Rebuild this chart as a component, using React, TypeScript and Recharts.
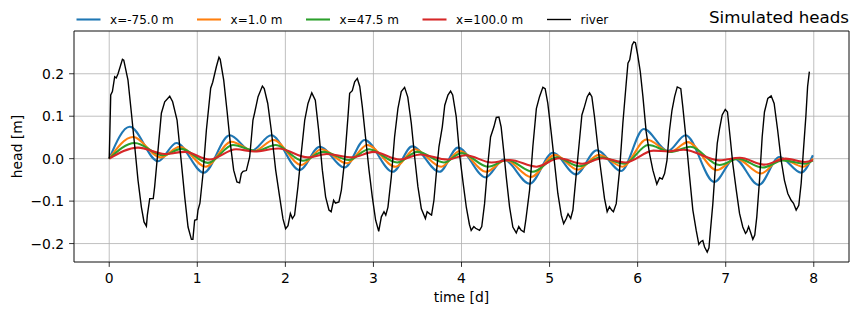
import React from "react";
import {
  CartesianGrid,
  Line,
  LineChart,
  ReferenceArea,
  XAxis,
  YAxis,
} from "recharts";

type Pt = [number, number];

// [time (d), head (m)]
const river: Pt[] = [
  [0, 0], [0.017, 0.15], [0.036, 0.158], [0.062, 0.193], [0.08, 0.19], [0.1, 0.2],
  [0.15, 0.234], [0.165, 0.232], [0.213, 0.185], [0.252, 0.107], [0.29, 0.028],
  [0.327, -0.051], [0.365, -0.114], [0.395, -0.149], [0.422, -0.159], [0.433, -0.133],
  [0.46, -0.094], [0.5, -0.094], [0.516, -0.066], [0.554, 0.02], [0.592, 0.107],
  [0.63, 0.134], [0.687, 0.147], [0.72, 0.134], [0.77, 0.091], [0.82, -0.011],
  [0.857, -0.09], [0.895, -0.161], [0.933, -0.19], [0.95, -0.19], [0.97, -0.145],
  [0.996, -0.143], [1.008, -0.121], [1.03, -0.105], [1.065, -0.035], [1.103, 0.067],
  [1.152, 0.166], [1.175, 0.18], [1.217, 0.217], [1.246, 0.239], [1.26, 0.234],
  [1.3, 0.185], [1.337, 0.114], [1.375, 0.036], [1.413, -0.027], [1.45, -0.055],
  [1.48, -0.057], [1.5, -0.035], [1.52, -0.03], [1.557, -0.028], [1.595, 0.004],
  [1.632, 0.091], [1.65, 0.107], [1.69, 0.146], [1.739, 0.171], [1.76, 0.165],
  [1.8, 0.13], [1.84, 0.067], [1.89, -0.027], [1.935, -0.09], [1.973, -0.142],
  [2.003, -0.165], [2.03, -0.158], [2.057, -0.129], [2.08, -0.141], [2.105, -0.133],
  [2.143, -0.066], [2.18, 0.012], [2.22, 0.091], [2.257, 0.13], [2.3, 0.155],
  [2.34, 0.138], [2.378, 0.067], [2.42, -0.027], [2.457, -0.09], [2.495, -0.121],
  [2.52, -0.125], [2.548, -0.098], [2.57, -0.105], [2.608, -0.102], [2.636, -0.074],
  [2.673, -0.004], [2.711, 0.099], [2.73, 0.154], [2.76, 0.16], [2.787, 0.181],
  [2.817, 0.189], [2.845, 0.17], [2.874, 0.122], [2.91, 0.051], [2.95, -0.027],
  [2.987, -0.09], [3.025, -0.145], [3.06, -0.171], [3.09, -0.137], [3.12, -0.125],
  [3.14, -0.133], [3.165, -0.114], [3.203, -0.043], [3.24, 0.051], [3.278, 0.118],
  [3.316, 0.158], [3.354, 0.168], [3.39, 0.145], [3.43, 0.083], [3.468, 0.004],
  [3.505, -0.066], [3.544, -0.118], [3.59, -0.141], [3.61, -0.125], [3.64, -0.13],
  [3.66, -0.133], [3.687, -0.098], [3.714, -0.035], [3.744, 0.028], [3.782, 0.075],
  [3.81, 0.126], [3.846, 0.15], [3.876, 0.159], [3.9, 0.15], [3.94, 0.099],
  [3.978, 0.01], [4.02, -0.06], [4.055, -0.115], [4.09, -0.155], [4.11, -0.169],
  [4.14, -0.16], [4.16, -0.164], [4.205, -0.169], [4.23, -0.16], [4.262, -0.106],
  [4.3, -0.011], [4.33, 0.051], [4.368, 0.075], [4.395, 0.097], [4.425, 0.098],
  [4.45, 0.075], [4.478, 0.02], [4.508, -0.043], [4.546, -0.114], [4.583, -0.161],
  [4.622, -0.175], [4.65, -0.16], [4.675, -0.168], [4.71, -0.173], [4.73, -0.145],
  [4.773, -0.074], [4.81, 0.028], [4.85, 0.118], [4.886, 0.146], [4.924, 0.168],
  [4.95, 0.165], [4.98, 0.13], [5.02, 0.059], [5.057, -0.011], [5.094, -0.082],
  [5.133, -0.133], [5.16, -0.153], [5.19, -0.141], [5.21, -0.13], [5.24, -0.141],
  [5.265, -0.121], [5.3, -0.043], [5.34, 0.044], [5.367, 0.103], [5.39, 0.118],
  [5.428, 0.146], [5.454, 0.155], [5.48, 0.146], [5.51, 0.099], [5.548, 0.028],
  [5.587, -0.035], [5.624, -0.094], [5.654, -0.125], [5.68, -0.113], [5.705, -0.121],
  [5.725, -0.125], [5.757, -0.106], [5.795, -0.027], [5.832, 0.083], [5.87, 0.177],
  [5.89, 0.225], [5.91, 0.233], [5.938, 0.268], [5.957, 0.275], [5.975, 0.273],
  [6.0, 0.245], [6.03, 0.205], [6.06, 0.146], [6.097, 0.063], [6.135, 0.012],
  [6.173, -0.027], [6.218, -0.06], [6.25, -0.045], [6.28, -0.048], [6.306, -0.035],
  [6.333, -0.004], [6.362, 0.067], [6.39, 0.114], [6.42, 0.146], [6.45, 0.169],
  [6.49, 0.165], [6.513, 0.122], [6.551, 0.044], [6.59, -0.043], [6.627, -0.121],
  [6.665, -0.169], [6.695, -0.202], [6.72, -0.195], [6.74, -0.193], [6.76, -0.208],
  [6.79, -0.22], [6.81, -0.21], [6.827, -0.169], [6.854, -0.106], [6.88, -0.027],
  [6.904, 0.036], [6.93, 0.07], [6.96, 0.103], [6.995, 0.116], [7.02, 0.11],
  [7.05, 0.051], [7.08, -0.011], [7.12, -0.074], [7.157, -0.129], [7.194, -0.161],
  [7.225, -0.176], [7.24, -0.172], [7.26, -0.16], [7.28, -0.172], [7.308, -0.19],
  [7.33, -0.18], [7.353, -0.137], [7.384, -0.051], [7.414, 0.051], [7.44, 0.11],
  [7.478, 0.142], [7.516, 0.148], [7.55, 0.13], [7.59, 0.067], [7.63, -0.004],
  [7.667, -0.051], [7.705, -0.082], [7.743, -0.098], [7.77, -0.105], [7.8, -0.121],
  [7.83, -0.11], [7.857, -0.058], [7.88, 0.012], [7.91, 0.099], [7.93, 0.17],
  [7.95, 0.205],
];

// simulated heads, turning points of each observation well
const headXm75: Pt[] = [
  [0, 0], [0.233, 0.075], [0.554, -0.006], [0.763, 0.037], [1.073, -0.033],
  [1.368, 0.055], [1.614, 0.018], [1.84, 0.055], [2.162, -0.027], [2.39, 0.028],
  [2.673, -0.021], [2.9, 0.044], [3.22, -0.031], [3.44, 0.029], [3.75, -0.031],
  [3.96, 0.026], [4.273, -0.044], [4.48, -0.002], [4.773, -0.059], [5.038, 0.014],
  [5.3, -0.037], [5.537, 0.02], [5.814, -0.029], [6.07, 0.07], [6.343, 0.018],
  [6.545, 0.055], [6.87, -0.055], [7.1, 0.0], [7.375, -0.062], [7.61, 0.004],
  [7.857, -0.033], [7.99, 0.008],
];

const headX1: Pt[] = [
  [0, 0], [0.27, 0.051], [0.585, 0.003], [0.8, 0.028], [1.095, -0.019],
  [1.387, 0.04], [1.645, 0.018], [1.867, 0.044], [2.18, -0.015], [2.41, 0.022],
  [2.7, -0.011], [2.93, 0.032], [3.25, -0.019], [3.47, 0.022], [3.77, -0.019],
  [3.98, 0.018], [4.28, -0.031], [4.5, -0.003], [4.79, -0.043], [5.06, 0.009],
  [5.32, -0.026], [5.56, 0.009], [5.83, -0.019], [6.1, 0.045], [6.37, 0.016],
  [6.57, 0.039], [6.9, -0.027], [7.12, 0.0], [7.4, -0.035], [7.63, 0.0],
  [7.88, -0.019], [7.99, 0.0],
];

const headX47: Pt[] = [
  [0, 0], [0.29, 0.037], [0.61, 0.008], [0.82, 0.023], [1.12, -0.01],
  [1.405, 0.032], [1.67, 0.018], [1.89, 0.032], [2.2, -0.005], [2.43, 0.016],
  [2.72, -0.003], [2.95, 0.022], [3.27, -0.009], [3.5, 0.016], [3.8, -0.009],
  [4.0, 0.013], [4.3, -0.019], [4.52, -0.003], [4.81, -0.031], [5.08, 0.003],
  [5.34, -0.018], [5.58, 0.003], [5.85, -0.012], [6.12, 0.032], [6.38, 0.016],
  [6.6, 0.028], [6.93, -0.015], [7.14, 0.0], [7.42, -0.021], [7.65, -0.004],
  [7.9, -0.012], [7.99, -0.004],
];

const headX100: Pt[] = [
  [0, 0], [0.327, 0.026], [0.63, 0.011], [0.86, 0.016], [1.14, -0.002],
  [1.44, 0.022], [1.65, 0.017], [1.92, 0.024], [2.257, 0.003], [2.47, 0.011],
  [2.76, 0.003], [3.0, 0.016], [3.3, -0.002], [3.53, 0.01], [3.84, -0.002],
  [4.05, 0.008], [4.34, -0.009], [4.55, -0.003], [4.85, -0.019], [5.11, 0.001],
  [5.37, -0.012], [5.6, 0.001], [5.86, -0.009], [6.18, 0.019], [6.35, 0.017],
  [6.52, 0.021], [6.93, -0.004], [7.16, 0.002], [7.44, -0.014], [7.68, 0.0],
  [7.9, -0.008], [7.99, -0.004],
];

const xTicks = [0, 1, 2, 3, 4, 5, 6, 7, 8];
const yTicks = [-0.2, -0.1, 0, 0.1, 0.2];
const xDomain: [number, number] = [-0.4, 8.4];
const yDomain: [number, number] = [-0.2434, 0.3007];

const FONT = "'DejaVu Sans', sans-serif";

const series = [
  { name: "x=-75.0 m", points: headXm75, color: "#1f77b4", width: 2.08, curve: "monotone", legendX: 76.5 },
  { name: "x=1.0 m", points: headX1, color: "#ff7f0e", width: 2.08, curve: "monotone", legendX: 197 },
  { name: "x=47.5 m", points: headX47, color: "#2ca02c", width: 2.08, curve: "monotone", legendX: 306 },
  { name: "x=100.0 m", points: headX100, color: "#d62728", width: 2.08, curve: "monotone", legendX: 422.5 },
  { name: "river", points: river, color: "#000000", width: 1.39, curve: "linear", legendX: 547 },
] as const;

const fmtY = (v: number) => v.toFixed(1).replace("-", "\u2212");

const XTick = ({ x, y, payload }: any) => (
  <text x={x} y={y} dy={11.3} textAnchor="middle" fontSize={13.9} fontFamily={FONT} fill="#000">
    {payload.value}
  </text>
);

const YTick = ({ x, y, payload }: any) => (
  <text x={x} y={y} dy={5} textAnchor="end" fontSize={13.9} fontFamily={FONT} fill="#000">
    {fmtY(payload.value)}
  </text>
);

export default function App() {
  return (
    <div
      style={{
        position: "absolute",
        left: 0,
        top: 0,
        width: 858,
        height: 316,
        background: "#fff",
      }}
    >
      <LineChart width={858} height={316} margin={{ top: 31, right: 9, bottom: 0, left: 0 }}>
        <CartesianGrid stroke="#b0b0b0" strokeWidth={0.8} />
        <XAxis
          dataKey="t"
          type="number"
          domain={xDomain}
          ticks={xTicks}
          interval={0}
          allowDataOverflow
          height={54}
          axisLine={false}
          tickSize={4.9}
          tickMargin={4.9}
          tickLine={{ stroke: "#000", strokeWidth: 0.8 }}
          tick={(p: any) => <XTick {...p} />}
        />
        <YAxis
          type="number"
          domain={yDomain}
          ticks={yTicks}
          interval={0}
          allowDataOverflow
          width={74}
          axisLine={false}
          tickSize={4.9}
          tickMargin={4.9}
          tickLine={{ stroke: "#000", strokeWidth: 0.8 }}
          tick={(p: any) => <YTick {...p} />}
        />
        {series.map((s) => (
          <Line
            key={s.name}
            data={s.points.map(([t, h]) => ({ t, h }))}
            dataKey="h"
            name={s.name}
            type={s.curve}
            stroke={s.color}
            strokeWidth={s.width}
            dot={false}
            activeDot={false}
            isAnimationActive={false}
          />
        ))}
        <ReferenceArea
          x1={xDomain[0]}
          x2={xDomain[1]}
          y1={yDomain[0]}
          y2={yDomain[1]}
          fill="none"
          fillOpacity={0}
          stroke="#000"
          strokeWidth={0.8}
          ifOverflow="visible"
        />
      </LineChart>
      <svg
        width={858}
        height={316}
        style={{ position: "absolute", left: 0, top: 0, pointerEvents: "none" }}
        fontFamily={FONT}
      >
        <text x={849} y={22.7} textAnchor="end" fontSize={16.7} fill="#000">
          Simulated heads
        </text>
        {series.map((s) => (
          <g key={s.name}>
            <line x1={s.legendX} x2={s.legendX + 24} y1={19.5} y2={19.5} stroke={s.color} strokeWidth={s.width} />
            <text x={s.legendX + 33.6} y={23.7} fontSize={12} fill="#000">
              {s.name}
            </text>
          </g>
        ))}
        <text x={461.5} y={302} textAnchor="middle" fontSize={13.9} fill="#000">
          time [d]
        </text>
        <text transform="translate(21.7,146.5) rotate(-90)" textAnchor="middle" fontSize={13.9} fill="#000">
          head [m]
        </text>
      </svg>
    </div>
  );
}
